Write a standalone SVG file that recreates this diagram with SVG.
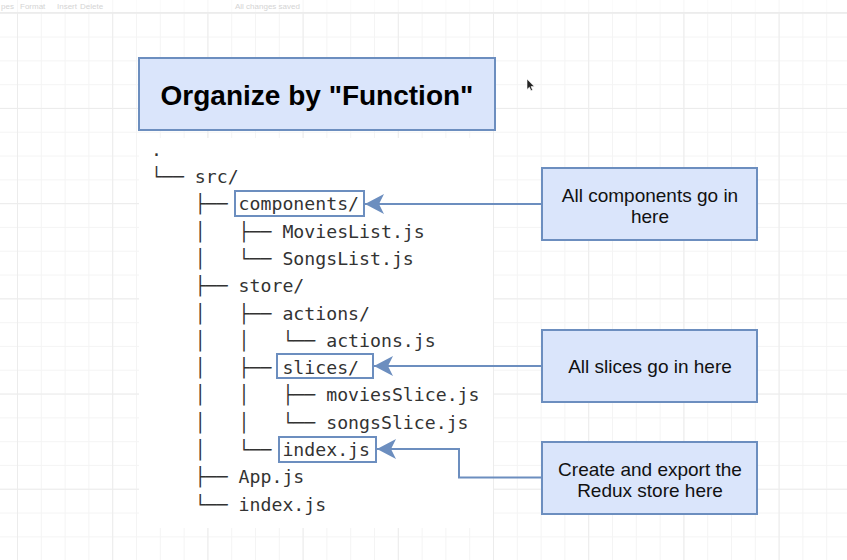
<svg xmlns="http://www.w3.org/2000/svg" width="847" height="560" viewBox="0 0 847 560">
  <defs>
    <pattern id="gridMinor" x="17" y="12.75" width="23.8" height="23.8" patternUnits="userSpaceOnUse">
      <path d="M0 0.5 H23.8 M0.5 0 V23.8" fill="none" stroke="#f4f4f4" stroke-width="1"/>
    </pattern>
    <pattern id="gridMajor" x="17" y="12.75" width="95.2" height="95.2" patternUnits="userSpaceOnUse">
      <path d="M0 0.5 H95.2 M0.5 0 V95.2" fill="none" stroke="#ececec" stroke-width="1"/>
    </pattern>
    <marker id="arrow" markerUnits="userSpaceOnUse" markerWidth="20" markerHeight="20" refX="19" refY="10" orient="auto">
      <path d="M0,0 L19,10 L0,20 L5,10 Z" fill="#6c8ebf"/>
    </marker>
    <style>
      .box { fill: #dae5fb; stroke: #6c8ebf; stroke-width: 2; }
      .hl { fill: none; stroke: #6c8ebf; stroke-width: 2; }
      .conn { fill: none; stroke: #6c8ebf; stroke-width: 2; marker-end: url(#arrow); }
      .tree { font-family: "DejaVu Sans Mono", monospace; font-size: 18.2px; fill: #333333; white-space: pre; }
      .label { font-family: "Liberation Sans", Arial, sans-serif; font-size: 19px; fill: #111111; text-anchor: middle; }
      .title { font-family: "Liberation Sans", Arial, sans-serif; font-size: 28px; font-weight: bold; fill: #000000; text-anchor: middle; }
      .tb { font-family: "Liberation Sans", Arial, sans-serif; font-size: 8px; fill: #d4d4d4; }
    </style>
  </defs>

  <!-- background and grid -->
  <rect x="0" y="0" width="847" height="560" fill="#ffffff"/>
  <rect x="0" y="0" width="847" height="560" fill="url(#gridMinor)"/>
  <rect x="0" y="0" width="847" height="560" fill="url(#gridMajor)"/>

  <!-- faint toolbar -->
  <g id="toolbar">
    <rect x="0" y="0" width="847" height="12" fill="#ffffff" opacity="0.6"/>
    <line x1="0" y1="12.5" x2="847" y2="12.5" stroke="#ececec" stroke-width="1"/>
    <text class="tb" x="1" y="8.5">pes</text>
    <text class="tb" x="20" y="8.5">Format</text>
    <text class="tb" x="57" y="8.5">Insert</text>
    <text class="tb" x="80" y="8.5" fill="#e6e6e6">Delete</text>
    <text class="tb" x="235" y="8.5">All changes saved</text>
  </g>

  <!-- white backing of tree -->
  <rect x="139" y="138" width="354" height="390" fill="#ffffff"/>

  <!-- title -->
  <g id="title">
    <rect class="box" x="139" y="58" width="356" height="72"/>
    <text class="title" x="317" y="105">Organize by "Function"</text>
  </g>

  <!-- directory tree -->
  <g id="tree">
    <text class="tree" xml:space="preserve" x="151" y="155.7">.</text>
    <text class="tree" xml:space="preserve" x="151" y="183">└── src/</text>
    <text class="tree" xml:space="preserve" x="151" y="210.3">    ├── components/</text>
    <text class="tree" xml:space="preserve" x="151" y="237.6">    │   ├── MoviesList.js</text>
    <text class="tree" xml:space="preserve" x="151" y="264.9">    │   └── SongsList.js</text>
    <text class="tree" xml:space="preserve" x="151" y="292.2">    ├── store/</text>
    <text class="tree" xml:space="preserve" x="151" y="319.5">    │   ├── actions/</text>
    <text class="tree" xml:space="preserve" x="151" y="346.8">    │   │   └── actions.js</text>
    <text class="tree" xml:space="preserve" x="151" y="374.1">    │   ├── slices/</text>
    <text class="tree" xml:space="preserve" x="151" y="401.4">    │   │   ├── moviesSlice.js</text>
    <text class="tree" xml:space="preserve" x="151" y="428.7">    │   │   └── songsSlice.js</text>
    <text class="tree" xml:space="preserve" x="151" y="456">    │   └── index.js</text>
    <text class="tree" xml:space="preserve" x="151" y="483.3">    ├── App.js</text>
    <text class="tree" xml:space="preserve" x="151" y="510.6">    └── index.js</text>
  </g>

  <!-- highlight boxes -->
  <g id="hl-components"><rect class="hl" x="235" y="191" width="129" height="25"/></g>
  <g id="hl-slices"><rect class="hl" x="277" y="354" width="96" height="24"/></g>
  <g id="hl-index"><rect class="hl" x="279" y="437" width="97" height="25"/></g>

  <!-- callouts -->
  <g id="note-components">
    <rect class="box" x="542" y="168" width="215" height="72"/>
    <text class="label" x="650" y="202">All components go in</text>
    <text class="label" x="650" y="223">here</text>
  </g>
  <g id="note-slices">
    <rect class="box" x="542" y="330" width="215" height="72"/>
    <text class="label" x="650" y="373">All slices go in here</text>
  </g>
  <g id="note-store">
    <rect class="box" x="542" y="442" width="215" height="72"/>
    <text class="label" x="650" y="476">Create and export the</text>
    <text class="label" x="650" y="497">Redux store here</text>
  </g>

  <!-- connectors -->
  <g id="connectors">
    <path class="conn" d="M541,204 H365"/>
    <path class="conn" d="M541,366 H374"/>
    <path class="conn" d="M541,477.5 H459 V449 H377"/>
  </g>

  <!-- mouse cursor -->
  <g id="cursor">
    <path d="M527,79 L527,89.5 L529.4,87.2 L531,90.8 L532.6,90.1 L531,86.6 L534.3,86.6 Z" fill="#222222" stroke="#ffffff" stroke-width="0.6"/>
  </g>
</svg>
